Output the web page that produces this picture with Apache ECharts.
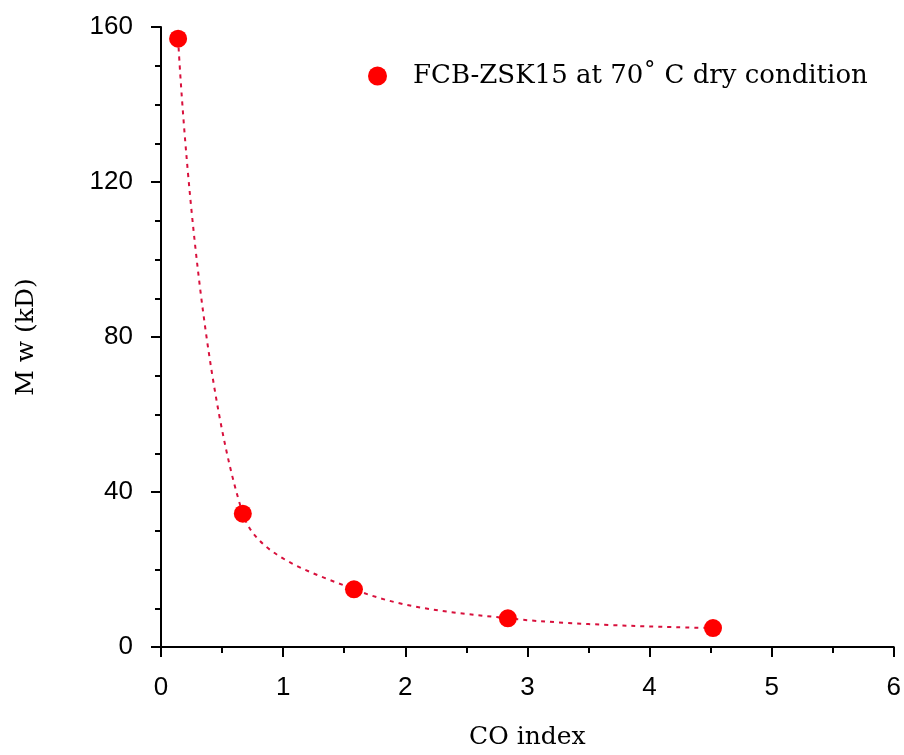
<!DOCTYPE html>
<html><head><meta charset="utf-8">
<script src="https://cdn.jsdelivr.net/npm/echarts@6/dist/echarts.min.js"></script>
<style>html,body{margin:0;padding:0;background:#fff;overflow:hidden}#c{width:904px;height:755px}</style>
</head><body><div id="c"></div>
<script>
const seriesName = 'FCB-ZSK15 at 70\u02da C dry condition';
const coIndex = [0.14, 0.67, 1.58, 2.84, 4.52];
const mwKD = [157, 34.4, 14.9, 7.4, 4.9];
const xTicks = [0, 1, 2, 3, 4, 5, 6];
const yTicks = [0, 40, 80, 120, 160];

const data = coIndex.map((x, i) => [x, mwKD[i]]);
const chart = echarts.init(document.getElementById('c'), null, {renderer: 'canvas', width: 904, height: 755});
const axisCommon = {
  axisLine: {show: true, onZero: false, lineStyle: {color: '#000', width: 2}},
  axisTick: {show: true, inside: false, length: 10, lineStyle: {color: '#000', width: 2}},
  minorTick: {show: true, length: 6, lineStyle: {color: '#000', width: 2}},
  splitLine: {show: false},
  axisLabel: {color: '#000', fontFamily: 'Liberation Sans', fontSize: 26},
  nameTextStyle: {color: '#000', fontFamily: 'DejaVu Serif', fontSize: 25}
};
chart.setOption({
  animation: false,
  backgroundColor: '#fff',
  grid: {left: 161, top: 27, width: 738, height: 624, containLabel: false},
  legend: {
    left: 363, top: 58, itemWidth: 19, itemHeight: 19,
    data: [{name: seriesName, icon: 'circle'}],
    textStyle: {color: '#000', fontFamily: 'DejaVu Serif', fontSize: 26, padding: [0, 0, 0, 21]}
  },
  xAxis: Object.assign({}, axisCommon, {
    type: 'value', min: xTicks[0], max: xTicks[xTicks.length - 1], interval: 1,
    minorTick: Object.assign({}, axisCommon.minorTick, {splitNumber: 2}),
    axisLabel: Object.assign({}, axisCommon.axisLabel, {margin: 28}),
    name: 'CO index', nameLocation: 'middle', nameGap: 78
  }),
  yAxis: Object.assign({}, axisCommon, {
    type: 'value', min: yTicks[0], max: yTicks[yTicks.length - 1], interval: 40,
    minorTick: Object.assign({}, axisCommon.minorTick, {splitNumber: 4}),
    axisLabel: Object.assign({}, axisCommon.axisLabel, {margin: 28}),
    name: 'M w (kD)', nameLocation: 'middle', nameGap: 122, nameRotate: 90
  }),
  series: [{
    name: seriesName,
    type: 'line',
    data: data,
    smooth: 0.35,
    symbol: 'circle',
    symbolSize: 18,
    itemStyle: {color: '#ff0000'},
    lineStyle: {color: '#d8103c', width: 2, type: [4, 5]}
  }]
});
</script></body></html>
